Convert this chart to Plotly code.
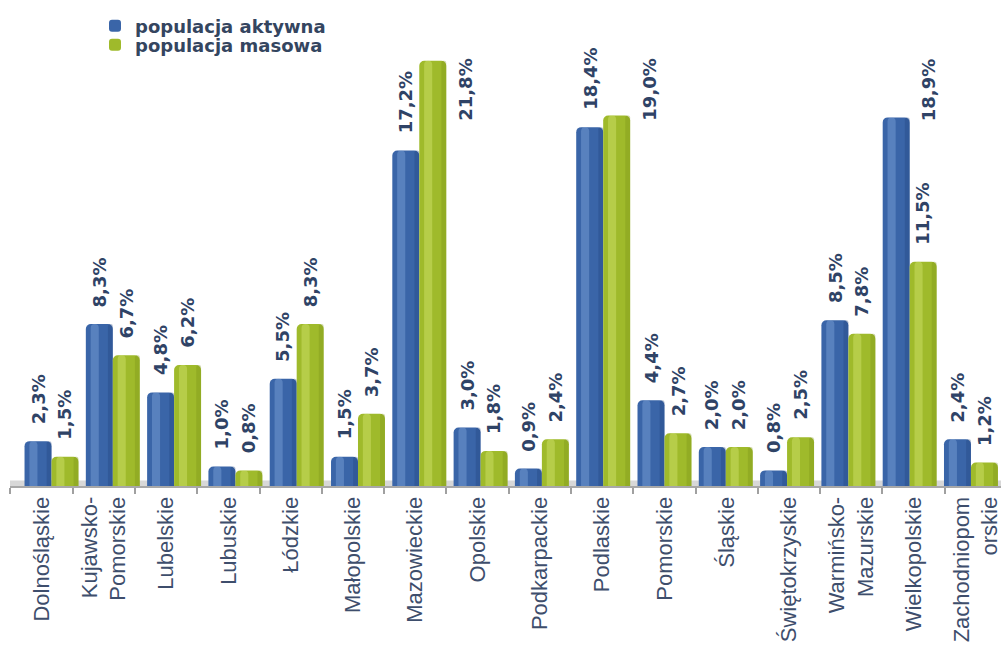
import plotly.graph_objects as go

# ---------------- data ----------------
regions = ["Dolnośląskie", "Kujawsko-<br>Pomorskie", "Lubelskie", "Lubuskie", "Łódzkie",
           "Małopolskie", "Mazowieckie", "Opolskie", "Podkarpackie", "Podlaskie",
           "Pomorskie", "Śląskie", "Świętokrzyskie", "Warmińsko-<br>Mazurskie",
           "Wielkopolskie", "Zachodniopom<br>orskie"]
aktywna = [2.3, 8.3, 4.8, 1.0, 5.5, 1.5, 17.2, 3.0, 0.9, 18.4, 4.4, 2.0, 0.8, 8.5, 18.9, 2.4]
masowa = [1.5, 6.7, 6.2, 0.8, 8.3, 3.7, 21.8, 1.8, 2.4, 19.0, 2.7, 2.0, 2.5, 7.8, 11.5, 1.2]
series_names = ["populacja aktywna", "populacja masowa"]

# ---------------- style ----------------
W, H = 1001, 648
BAR_W = 0.44
base_cols = ["#3A65A8", "#9FBA2B"]
light_cols = ["#7FA3DA", "#D2E46E"]
dark_cols = ["#23467F", "#7A9117"]
label_col = "#2F4366"
axis_text_col = "#3E4E6C"
SHIFT_ABOVE = 18.6   # labels of taller bars are moved aside (no room above)

fig = go.Figure()

series = [aktywna, masowa]
offsets = [-BAR_W, 0.0]
for k, vals in enumerate(series):
    off = offsets[k]
    # main cylinder body
    fig.add_trace(go.Bar(
        x=regions, y=vals, name=series_names[k], offset=off, width=BAR_W,
        marker=dict(color=base_cols[k], line=dict(width=0)),
        legend="legend" if k == 0 else "legend2", hoverinfo="skip"))
    # highlight strip (cylinder shading)
    fig.add_trace(go.Bar(
        x=regions, y=vals, offset=off + BAR_W * 0.18, width=BAR_W * 0.30,
        marker=dict(color=light_cols[k], opacity=0.45, line=dict(width=0)),
        showlegend=False, hoverinfo="skip"))
    # dark right edge
    fig.add_trace(go.Bar(
        x=regions, y=vals, offset=off + BAR_W * 0.82, width=BAR_W * 0.18,
        marker=dict(color=dark_cols[k], opacity=0.35, line=dict(width=0)),
        showlegend=False, hoverinfo="skip"))

# invisible trace to carry the category axis with labels / boundary ticks
fig.add_trace(go.Scatter(x=regions, y=[0] * len(regions), xaxis="x2", mode="markers",
                         marker=dict(opacity=0), showlegend=False, hoverinfo="skip"))

# value labels
annotations = []
px_per_cat = (W - 10) / (15.49 + 0.677)
for k, vals in enumerate(series):
    center_px = (offsets[k] + BAR_W / 2) * px_per_cat
    for cat, v in zip(regions, vals):
        txt = f"{v:.1f}%".replace(".", ",")
        common = dict(text=txt, textangle=-90, showarrow=False, xref="x",
                      font=dict(family="DejaVu Sans", size=18, color=label_col, weight="bold"))
        if v > SHIFT_ABOVE:
            annotations.append(dict(x=cat, xshift=center_px + 32, yref="paper", y=1,
                                    yanchor="top", yshift=-27, **common))
        else:
            annotations.append(dict(x=cat, xshift=center_px, yref="y", y=v,
                                    yanchor="bottom", yshift=15, **common))

legend_font = dict(family="DejaVu Sans", size=18, color="#34455F", weight="bold")
fig.update_layout(
    width=W, height=H,
    margin=dict(l=10, r=0, t=30, b=162, autoexpand=False),
    paper_bgcolor="white", plot_bgcolor="white",
    barmode="overlay",
    barcornerradius=5,
    xaxis=dict(type="category", categoryorder="array", categoryarray=regions,
               range=[-0.677, 15.49], showticklabels=False, ticks="", showline=False,
               showgrid=False, zeroline=False),
    xaxis2=dict(type="category", categoryorder="array", categoryarray=regions,
                overlaying="x", anchor="y", side="bottom",
                range=[-0.5056, 15.404], tickson="boundaries", ticks="outside", ticklen=6,
                tickwidth=1.5, tickcolor="#A0A0A0", showline=True, linecolor="#A8A8A8",
                linewidth=2, showgrid=False, zeroline=False, tickangle=-90,
                tickfont=dict(family="Liberation Sans", size=22, color=axis_text_col)),
    yaxis=dict(range=[0, 23.38], visible=False),
    legend=dict(xref="container", yref="container", x=95 / W, y=1 - 26 / H,
                xanchor="left", yanchor="middle", itemwidth=30,
                bgcolor="rgba(0,0,0,0)", font=legend_font),
    legend2=dict(xref="container", yref="container", x=95 / W, y=1 - 45 / H,
                 xanchor="left", yanchor="middle", itemwidth=30,
                 bgcolor="rgba(0,0,0,0)", font=legend_font),
    annotations=annotations,
    shapes=[dict(type="rect", xref="paper", yref="paper", x0=0, x1=1, y0=0, y1=0.012,
                 fillcolor="#D8D8D8", line=dict(width=0), layer="below")],
)

fig.write_html("out.html")
